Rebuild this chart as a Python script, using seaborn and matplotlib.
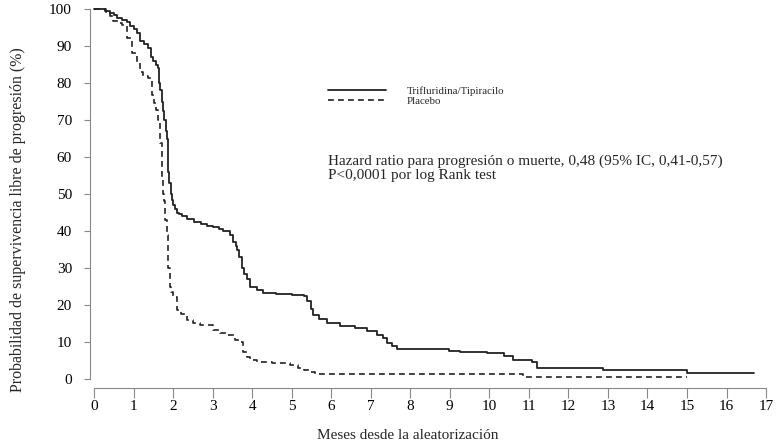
import numpy as np
import pandas as pd
import matplotlib
matplotlib.use("Agg")
import matplotlib.pyplot as plt
import seaborn as sns

# curva Trifluridina/Tipiracilo
tt_meses = [0, 0.28, 0.4, 0.5, 0.58, 0.7, 0.83, 0.92, 1.0, 1.08,
            1.17, 1.27, 1.37, 1.45, 1.5, 1.57, 1.63, 1.65, 1.68, 1.71,
            1.74, 1.77, 1.81, 1.84, 1.87, 1.9, 1.94, 1.97, 2.0, 2.05,
            2.09, 2.15, 2.22, 2.35, 2.52, 2.7, 2.85, 3.0, 3.15, 3.27,
            3.44, 3.52, 3.58, 3.63, 3.68, 3.74, 3.8, 3.87, 3.95, 4.12,
            4.28, 4.6, 5.0, 5.3, 5.4, 5.48, 5.55, 5.7, 5.89, 6.23,
            6.6, 6.9, 7.16, 7.3, 7.41, 7.55, 7.66, 8.97, 9.27, 9.94,
            10.36, 10.6, 11.07, 11.2, 12.88, 14.99, 16.7]
tt_surv = [100, 99.5, 99, 98.3, 97.5, 97, 96.5, 95.5, 94.5, 93.5,
           91.5, 90.5, 89.4, 87, 86, 85, 84, 80, 78, 75,
           72.5, 70, 67, 65, 56, 53, 50, 48.5, 47, 46,
           45, 44.5, 44, 43.2, 42.5, 42, 41.4, 41, 40.5, 40,
           39, 37, 36, 35, 33, 30, 28.5, 27, 25, 24,
           23.3, 23, 22.7, 22.4, 21, 19, 17.3, 16.2, 15.2, 14.4,
           13.8, 13.1, 11.9, 11, 9.8, 9, 8, 7.5, 7.2, 6.9,
           6.2, 5.1, 4.7, 3.0, 2.4, 1.7, 1.7]

# curva Placebo
pl_meses = [0, 0.3, 0.4, 0.49, 0.6, 0.7, 0.83, 0.95, 1.08, 1.16,
            1.25, 1.37, 1.46, 1.52, 1.57, 1.63, 1.67, 1.71, 1.74, 1.76,
            1.8, 1.84, 1.88, 1.92, 1.96, 2.0, 2.09, 2.2, 2.35, 2.5,
            2.68, 3.02, 3.2, 3.36, 3.57, 3.7, 3.78, 3.86, 3.95, 4.12,
            4.5, 4.96, 5.15, 5.3, 5.45, 5.59, 10.85, 15.0]
pl_surv = [100, 99, 98, 96.8, 96.2, 95.7, 92.1, 88, 85.8, 83,
           81.9, 81.3, 76.8, 74.5, 72.7, 70, 63.8, 54.7, 50, 48,
           43, 39, 30, 25, 23.5, 22.2, 18.6, 17.5, 15.9, 15.2,
           14.6, 13.2, 12.5, 11.9, 10.5, 10.1, 7.4, 6, 5.1, 4.7,
           4.3, 3.8, 3.0, 2.4, 1.9, 1.4, 0.6, 0.6]

x_ticks = list(range(0, 18))
y_ticks = list(range(0, 101, 10))

sns.set_style("ticks")
plt.rcParams['font.family'] = ['Liberation Serif', 'DejaVu Serif']

fig = plt.figure(figsize=(7.78, 4.45), dpi=100)
ax = fig.add_axes([90 / 778, 1 - 388 / 445, 680 / 778, 383 / 445])

sns.lineplot(x=pl_meses, y=pl_surv, ax=ax, drawstyle='steps-post', color='#222222',
             linewidth=1.2, estimator=None, sort=False, label='Placebo')
ax.lines[-1].set_linestyle((0, (3.5, 2.5)))
sns.lineplot(x=tt_meses, y=tt_surv, ax=ax, drawstyle='steps-post', color='#222222',
             linewidth=1.3, estimator=None, sort=False, label='Trifluridina/Tipiracilo')

ax.set_xlim(-0.101, 17.1)
ax.set_ylim(-2.43, 101.1)
ax.set_xticks(x_ticks)
ax.set_yticks(y_ticks)
ax.tick_params(axis='both', labelsize=11, colors='#000000')
ax.tick_params(axis='x', length=7, width=0.8, color='#888888', pad=2)
ax.tick_params(axis='y', length=4, width=0.8, color='#888888', pad=9)
sns.despine(ax=ax)
ax.spines['left'].set_bounds(0, 100)
ax.spines['bottom'].set_bounds(0, 17)
for s in ('left', 'bottom'):
    ax.spines[s].set_color('#888888')
    ax.spines[s].set_linewidth(0.8)

ax.set_xlabel('Meses desde la aleatorización', fontsize=11)
ax.set_ylabel('Probabilidad de supervivencia libre de progresión (%)', fontsize=11.4)
ax.xaxis.set_label_coords(0.467, -0.108)
ax.yaxis.set_label_coords(-0.094, 0.44)

h, l = ax.get_legend_handles_labels()
ax.legend(h[::-1], l[::-1], loc='center left', bbox_to_anchor=(5.92, 76.5),
          bbox_transform=ax.transData, frameon=False, fontsize=7.8,
          handlelength=5.35, handletextpad=1.95, labelspacing=0.05,
          borderpad=0, borderaxespad=0)

ax.text(5.92, 58.9, 'Hazard ratio para progresión o muerte, 0,48 (95% IC, 0,41-0,57)',
        fontsize=11, va='center', ha='left')
ax.text(5.92, 55.1, 'P<0,0001 por log Rank test', fontsize=11, va='center', ha='left')

fig.savefig('out.png', dpi=100)
